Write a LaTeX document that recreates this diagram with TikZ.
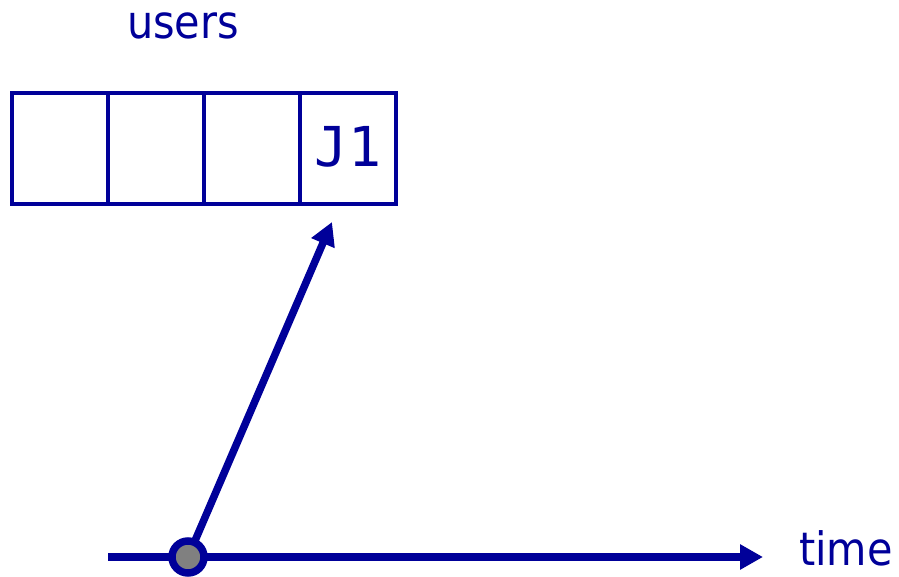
\documentclass[tikz,border=0pt]{standalone}
\usepackage{fontspec}
\setmainfont{DejaVu Sans Condensed}
\newfontfamily\monofont{DejaVu Sans Mono}
\usetikzlibrary{arrows.meta, positioning}
\definecolor{navy}{RGB}{0, 0, 153}
\definecolor{dotgray}{RGB}{128, 128, 128}

\begin{document}
\begin{tikzpicture}[
        x=1pt, y=-1pt,
        cell/.style={draw=navy, line width=4pt, minimum width=96pt, minimum height=111pt, outer sep=0pt, inner sep=0pt},
        label/.style={text=navy, font=\fontsize{46}{55}\selectfont, inner sep=0pt},
        arrow/.style={line width=7.5pt, draw=navy, -{Triangle[length=23pt, width=24pt]}},
        dot/.style={circle, draw=navy, line width=7.5pt, fill=dotgray, minimum size=32pt, inner sep=0pt}
    ]
        \useasboundingbox (0,0) rectangle (899,577);

        % queue of users
        \node[cell] (cell1) at (60,149) {};
        \foreach \i [count=\j from 2] in {1,2,3}
            \node[cell, right=0pt of cell\i] (cell\j) {};
        \node[text=navy, font=\monofont\fontsize{55}{65}\selectfont, anchor=base] (job) at (cell4.center |- 0,167) {J1};
        \node[label, anchor=base] (users) at (183,39) {users};

        % time axis
        \coordinate (origin) at (188,557);
        \coordinate (tstart) at (108,557);
        \coordinate (tend) at (763,557);
        \coordinate (jtip) at (332,222);
        \draw[arrow] (tstart) -- (tend);
        \draw[arrow] (origin) -- (jtip);
        \node[dot] (arrival) at (origin) {};
        \node[label, anchor=base west] (time) at (799,565) {time};
    \end{tikzpicture}
\end{document}
